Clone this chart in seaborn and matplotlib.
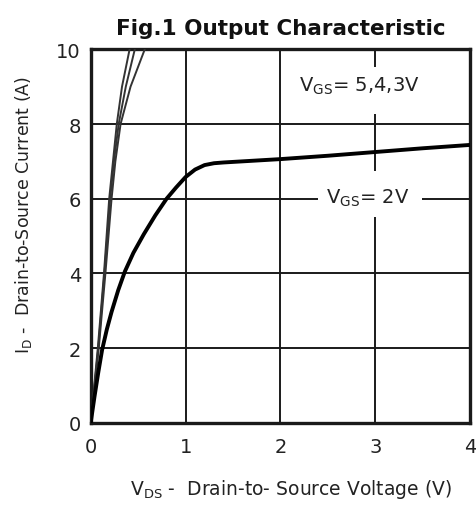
import matplotlib
matplotlib.use("Agg")
import matplotlib.pyplot as plt
import seaborn as sns
import pandas as pd

# ---- data ----
vds_2v = [0, 0.04, 0.08, 0.12, 0.17, 0.22, 0.29, 0.36, 0.45, 0.56, 0.68, 0.80, 0.90,
          1.0, 1.1, 1.2, 1.3, 1.4, 1.6, 2.0, 2.5, 3.0, 3.5, 4.0]
id_2v = [0, 0.7, 1.35, 1.95, 2.5, 2.97, 3.55, 4.05, 4.55, 5.05, 5.55, 6.0, 6.3,
         6.58, 6.78, 6.9, 6.95, 6.97, 7.0, 7.06, 7.15, 7.25, 7.35, 7.44]

id_steep = [0, 2, 4, 6, 7, 8, 9, 10]
vds_5v = [0, 0.075, 0.14, 0.195, 0.235, 0.275, 0.33, 0.41]
vds_4v = [0, 0.08, 0.145, 0.205, 0.245, 0.295, 0.37, 0.465]
vds_3v = [0, 0.085, 0.155, 0.22, 0.26, 0.315, 0.42, 0.57]

x_ticks = [0, 1, 2, 3, 4]
y_ticks = [0, 2, 4, 6, 8, 10]

title = "Fig.1 Output Characteristic"
xlabel = "V$_{DS}$ -  Drain-to- Source Voltage (V)"
ylabel = "I$_D$ -  Drain-to-Source Current (A)"
label_hi = "V$_{GS}$= 5,4,3V"
label_lo = "V$_{GS}$= 2V"

# ---- plot ----
sns.set_style("white")
plt.rcParams["font.family"] = ["DejaVu Sans"]
plt.rcParams["mathtext.default"] = "regular"

fig = plt.figure(figsize=(4.76, 5.06), dpi=100)
ax = fig.add_axes([90.7 / 476, 1 - 423.8 / 506, 379.5 / 476, 373.5 / 506])

steep = pd.concat([
    pd.DataFrame({"V": vds_5v, "I": id_steep, "g": "5V"}),
    pd.DataFrame({"V": vds_4v, "I": id_steep, "g": "4V"}),
    pd.DataFrame({"V": vds_3v, "I": id_steep, "g": "3V"}),
])
low = pd.DataFrame({"V": vds_2v, "I": id_2v})

# grid lines (broken where labels sit)
gl = dict(color="#1a1a1a", lw=1.4, zorder=1)
ax.vlines([1, 2], 0, 10, **gl)
ax.vlines([3, 3, 3], [0, 6.74, 9.52], [5.51, 8.26, 10], **gl)
ax.hlines([2, 4, 8], 0, 4, **gl)
ax.hlines([6, 6], [0, 3.49], [2.4, 4], **gl)

sns.lineplot(data=steep, x="V", y="I", units="g", estimator=None, sort=False,
             color="#333333", lw=1.4, ax=ax, zorder=3)
sns.lineplot(data=low, x="V", y="I", sort=False, color="black", lw=2.8, ax=ax, zorder=4)
for ln in ax.lines:
    ln.set_solid_joinstyle("round")

ax.set_xlim(0, 4)
ax.set_ylim(0, 10)
ax.set_xticks(x_ticks)
ax.set_yticks(y_ticks)
ax.tick_params(axis="both", length=0, labelsize=14, colors="#222222")
ax.tick_params(axis="x", pad=10)
ax.tick_params(axis="y", pad=7)
for s in ax.spines.values():
    s.set_visible(True)
    s.set_color("#1a1a1a")
    s.set_linewidth(2.4)

ax.set_xlabel(xlabel, fontsize=13.5, color="#222222", va="center")
ax.xaxis.set_label_coords(0.528, -0.1746)
ax.set_ylabel(ylabel, fontsize=12.5, color="#222222", va="center")
ax.yaxis.set_label_coords(-0.176, 0.559)
ax.set_title(title, fontsize=15.5, fontweight="bold", pad=11, color="#111111")

ax.text(2.83, 9.03, label_hi, fontsize=14, ha="center", va="center", color="#222222", zorder=5)
ax.text(2.92, 6.03, label_lo, fontsize=14, ha="center", va="center", color="#222222", zorder=5)

fig.savefig("out.png", dpi=100)
